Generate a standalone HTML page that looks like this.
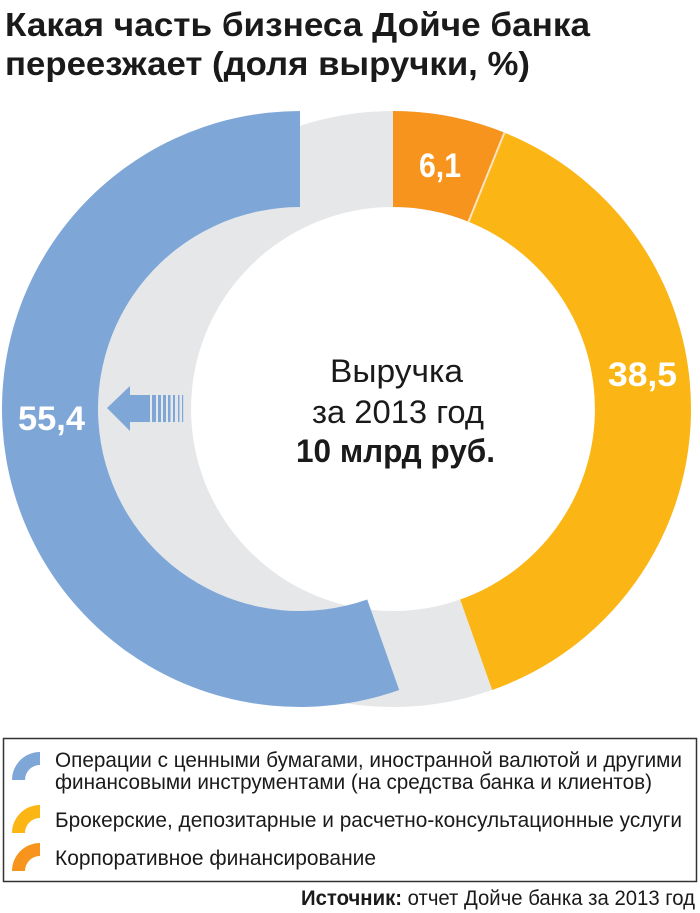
<!DOCTYPE html>
<html><head><meta charset="utf-8"><style>
html,body{margin:0;padding:0;background:#fff;}
svg{display:block;}
text{font-family:"Liberation Sans Narrow","Liberation Sans","DejaVu Sans Condensed",sans-serif;}
</style></head><body>
<svg width="700" height="913" viewBox="0 0 700 913" xmlns="http://www.w3.org/2000/svg">
<rect width="700" height="913" fill="#fff"/>
<g fill="#1a1a1a" font-weight="bold" font-size="33">
<text x="5" y="36" textLength="585" lengthAdjust="spacingAndGlyphs">Какая часть бизнеса Дойче банка</text>
<text x="5" y="75" textLength="525" lengthAdjust="spacingAndGlyphs">переезжает (доля выручки, %)</text>
</g>
<path fill="#e6e7e9" fill-rule="evenodd" d="M393,111 A298,298 0 1,1 392.9,111 Z M393,207 A202,202 0 1,0 393.1,207 Z"/>
<path fill="#f7941d" d="M393,111 A298,298 0 0,1 504.4,132.6 L468.5,221.7 A202,202 0 0,0 393,207 Z"/>
<path fill="#fbb615" d="M504.4,132.6 A298,298 0 0,1 492.2,690 L460.2,599.5 A202,202 0 0,0 468.5,221.7 Z"/>
<line x1="504.4" y1="132.6" x2="468.5" y2="221.7" stroke="#fbe3c4" stroke-width="2"/>
<path fill="#7ea7d8" d="M300,111 A298,298 0 1,0 399.2,690 L367.2,599.5 A202,202 0 1,1 300,207 Z"/>
<g fill="#7ea7d8">
<path d="M107,408 L130,386 L130,395 L150,395 L150,422 L130,422 L130,431 Z"/>
<rect x="152" y="395" width="4" height="27"/>
<rect x="158" y="395" width="3" height="27"/>
<rect x="163" y="395" width="3" height="27"/>
<rect x="168" y="395" width="2.5" height="27"/>
<rect x="173" y="395" width="2" height="27"/>
<rect x="178" y="395" width="1.5" height="27"/>
<rect x="182" y="395" width="1.2" height="27"/>
</g>
<g fill="#fff" font-weight="bold" font-size="34">
<text x="18" y="430" textLength="67" lengthAdjust="spacingAndGlyphs">55,4</text>
<text x="608" y="386" textLength="69" lengthAdjust="spacingAndGlyphs">38,5</text>
<text x="419" y="177" textLength="42" lengthAdjust="spacingAndGlyphs">6,1</text>
</g>
<g fill="#1a1a1a" font-size="32">
<text x="330" y="382" textLength="133" lengthAdjust="spacingAndGlyphs">Выручка</text>
<text x="312" y="423" textLength="172" lengthAdjust="spacingAndGlyphs">за 2013 год</text>
<text x="296" y="462" textLength="199" lengthAdjust="spacingAndGlyphs" font-weight="bold">10 млрд руб.</text>
</g>
<rect x="3.5" y="738.5" width="693" height="143" fill="none" stroke="#333" stroke-width="1.5"/>
<path fill="#7ea7d8" d="M12,780 A28,28 0 0,1 40,752 L40,765 A15,15 0 0,0 25,780 Z"/>
<path fill="#fbb615" d="M12,833 A28,28 0 0,1 40,805 L40,818 A15,15 0 0,0 25,833 Z"/>
<path fill="#f7941d" d="M12,871 A28,28 0 0,1 40,843 L40,856 A15,15 0 0,0 25,871 Z"/>
<g fill="#1a1a1a" font-size="21">
<text x="55" y="767" textLength="627" lengthAdjust="spacingAndGlyphs">Операции с ценными бумагами, иностранной валютой и другими</text>
<text x="55" y="789" textLength="597" lengthAdjust="spacingAndGlyphs">финансовыми инструментами (на средства банка и клиентов)</text>
<text x="55" y="827" textLength="627" lengthAdjust="spacingAndGlyphs">Брокерские, депозитарные и расчетно-консультационные услуги</text>
<text x="55" y="865" textLength="321" lengthAdjust="spacingAndGlyphs">Корпоративное финансирование</text>
<text x="301" y="905" textLength="394" lengthAdjust="spacingAndGlyphs"><tspan font-weight="bold">Источник:</tspan> отчет Дойче банка за 2013 год</text>
</g>
</svg>
</body></html>
